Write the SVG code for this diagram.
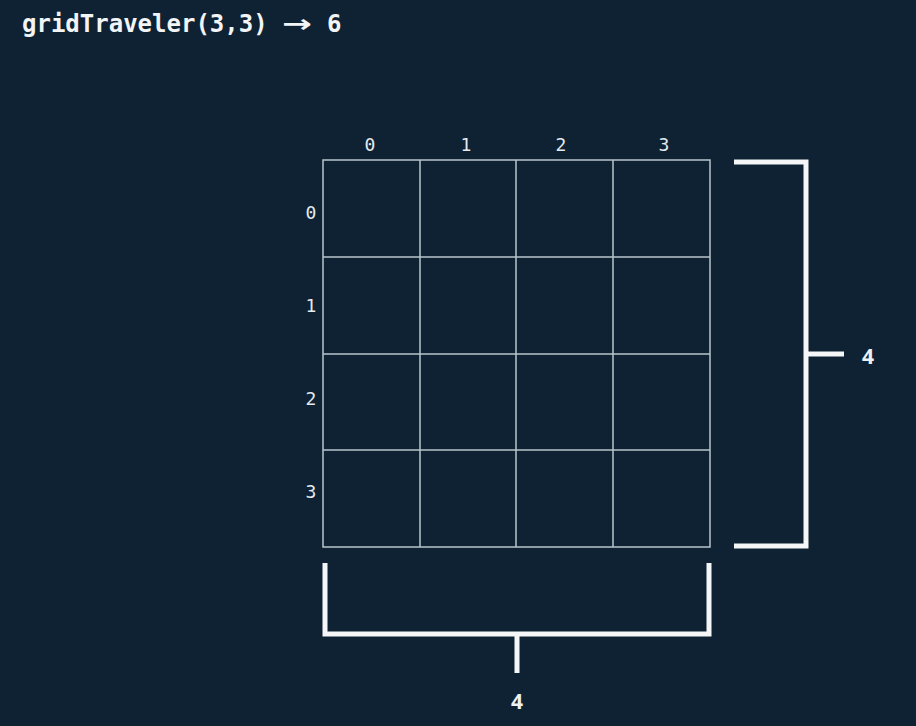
<svg xmlns="http://www.w3.org/2000/svg" width="916" height="726" viewBox="0 0 916 726">
<style>
.bg{fill:#0f2233}
.grid{fill:none;stroke:#b9c5cd;stroke-width:1.5}
.br{fill:none;stroke:#f4f6f7;stroke-width:5;stroke-linejoin:miter}
.lbl{font-family:"DejaVu Sans Mono","Liberation Mono",monospace;font-size:18px;fill:#e6eaee;text-anchor:middle}
.title{font-family:"DejaVu Sans Mono","Liberation Mono",monospace;font-size:24px;font-weight:bold;fill:#f2f4f6}
.arrow{font-family:"DejaVu Sans","Liberation Sans",sans-serif;font-size:24px}
.dim{font-family:"Open Sans","Liberation Sans",sans-serif;font-size:21px;font-weight:bold;fill:#eef1f3;text-anchor:middle}
</style>
<rect class="bg" x="0" y="0" width="916" height="726"/>
<text class="title" x="22" y="32">gridTraveler(3,3) <tspan class="arrow" x="282" textLength="30" lengthAdjust="spacingAndGlyphs">→</tspan> <tspan x="327">6</tspan></text>
<g id="grid">
<rect class="grid" x="323" y="160" width="387" height="387"/>
<path class="grid" d="M420 160V547M516 160V547M613 160V547M323 257H710M323 354H710M323 450H710"/>
</g>
<g id="col-labels">
<text class="lbl" x="370" y="151">0</text>
<text class="lbl" x="466" y="151">1</text>
<text class="lbl" x="561" y="151">2</text>
<text class="lbl" x="664" y="151">3</text>
</g>
<g id="row-labels">
<text class="lbl" x="311" y="219">0</text>
<text class="lbl" x="311" y="312">1</text>
<text class="lbl" x="311" y="405">2</text>
<text class="lbl" x="311" y="498">3</text>
</g>
<g id="connectors">
<path class="br" d="M734 162H806V546H734M806 354H844"/>
<path class="br" d="M325 563V634H709V563M517 634V673"/>
</g>
<g id="dim-right"><text class="dim" x="868" y="364">4</text></g>
<g id="dim-bottom"><text class="dim" x="517" y="709">4</text></g>
</svg>
